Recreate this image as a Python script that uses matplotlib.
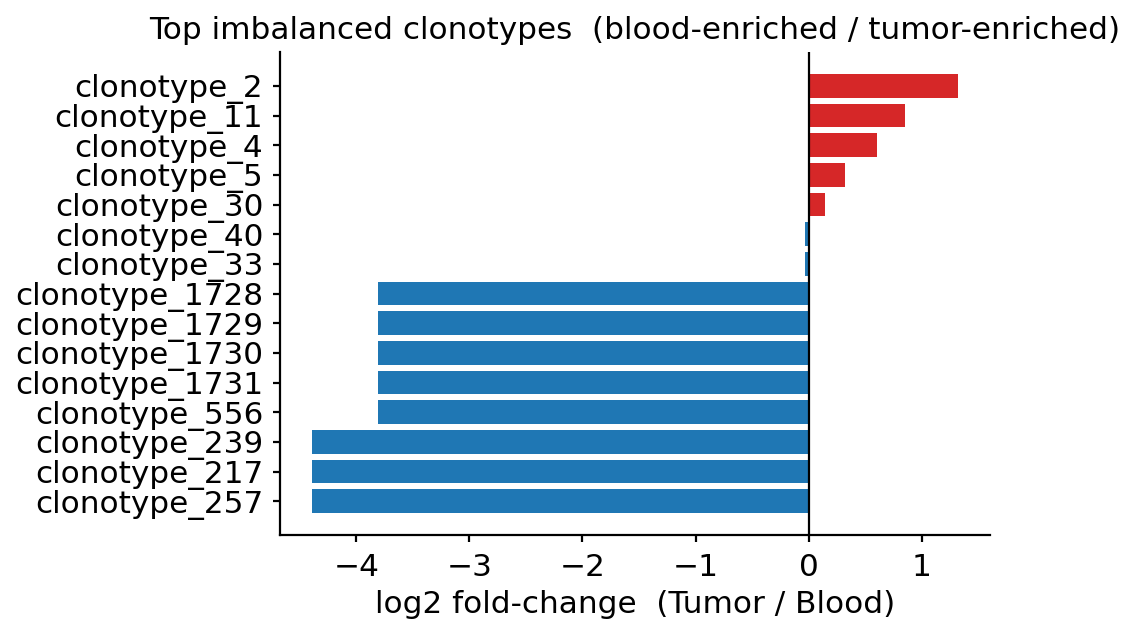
import matplotlib
matplotlib.use("Agg")
import matplotlib.pyplot as plt

# clonotypes, top to bottom as shown
clonotypes = ["clonotype_2", "clonotype_11", "clonotype_4", "clonotype_5",
              "clonotype_30", "clonotype_40", "clonotype_33", "clonotype_1728",
              "clonotype_1729", "clonotype_1730", "clonotype_1731", "clonotype_556",
              "clonotype_239", "clonotype_217", "clonotype_257"]
log2fc = [1.32, 0.85, 0.61, 0.32, 0.15, -0.035, -0.035, -3.81,
          -3.81, -3.81, -3.81, -3.81, -4.39, -4.39, -4.39]

colors = ["#d62728" if v > 0 else "#1f77b4" for v in log2fc]

plt.rcParams["font.size"] = 11.2
plt.rcParams["xtick.major.size"] = 2.6
plt.rcParams["ytick.major.size"] = 2.6
plt.rcParams["xtick.major.pad"] = 4
plt.rcParams["ytick.major.pad"] = 3.4

fig = plt.figure(figsize=(5.68, 3.165), dpi=200)
ax = fig.add_axes([0.2465, 0.1548, 0.625, 0.763])

ypos = list(range(len(clonotypes)))[::-1]
ax.barh(ypos, log2fc, color=colors, height=0.8)
ax.axvline(0, color="black", linewidth=0.8)
ax.set_yticks(ypos)
ax.set_yticklabels(clonotypes)
ax.set_xlabel("log2 fold-change  (Tumor / Blood)", labelpad=2.8)
ax.set_title("Top imbalanced clonotypes  (blood-enriched / tumor-enriched)",
             fontsize=11.2, pad=4.7)
ax.spines["top"].set_visible(False)
ax.spines["right"].set_visible(False)

fig.savefig("out.png", dpi=200)
